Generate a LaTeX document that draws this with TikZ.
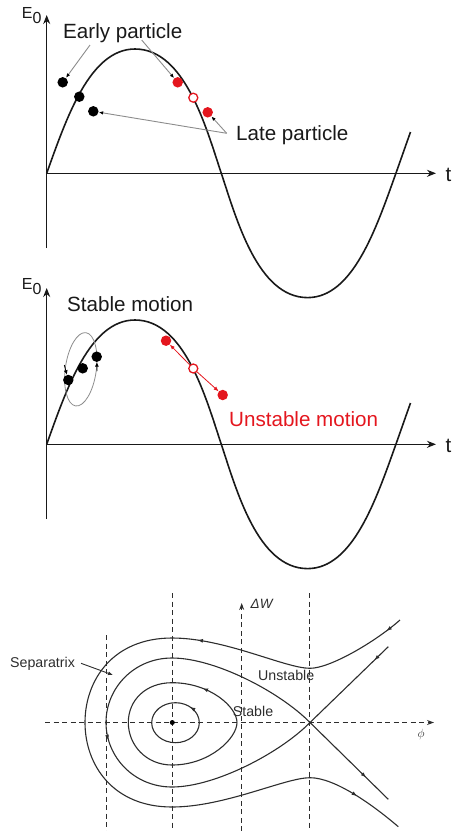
\documentclass[tikz,border=0pt]{standalone}
\usepackage{fontspec}
\setmainfont{Liberation Sans}
\usetikzlibrary{arrows.meta,decorations.markings}
\definecolor{pred}{RGB}{228,22,30}
\definecolor{lgray}{RGB}{140,140,140}
\definecolor{dline}{RGB}{45,45,45}
\definecolor{txt}{RGB}{25,25,25}
\begin{document}
\begin{tikzpicture}[x=1pt,y=-1pt,
  big/.style={font=\fontsize{20.6}{24}\selectfont, inner sep=0pt, text=txt},
  small/.style={font=\fontsize{14.2}{16}\selectfont, inner sep=0pt, text=dline},
  elabel/.style={font=\fontsize{16}{18}\selectfont, inner sep=0pt, anchor=base west, text=txt},
  axisline/.style={line width=1.5pt, draw=txt, -{Stealth[length=9pt,width=7pt]}},
  wave/.style={line width=1.6pt, draw=txt},
  bdot/.style={circle, fill=black, inner sep=0pt, minimum size=10.5pt},
  rdot/.style={circle, fill=pred, inner sep=0pt, minimum size=10.5pt},
  hdot/.style={circle, draw=pred, fill=white, line width=1.3pt, inner sep=0pt, minimum size=9pt},
  pointer/.style={draw=lgray, line width=0.9pt, -{Latex[length=4.5pt,width=3.5pt,color=black]}},
  tipline/.style={draw=black, line width=0.8pt, -{Latex[length=4.5pt,width=4pt]}},
  redline/.style={draw=pred, line width=0.8pt, -{Latex[length=5pt,width=4pt]}},
  dashline/.style={draw=dline, line width=0.9pt, dash pattern=on 5pt off 3.5pt},
  traj/.style={draw=dline, line width=1.1pt},
  flow/.style={postaction={decorate}, decoration={markings, mark=at position #1 with {\arrow{Latex[length=5.5pt,width=4pt]}}}},
]
\useasboundingbox (0,0) rectangle (451,831);

% ================= Panel 1 =================
\coordinate (o1) at (46.7,173.3);
\coordinate (y1b) at (46.7,248);
\coordinate (y1t) at (46.7,15);
\coordinate (x1e) at (436,173.3);
\draw[axisline] (y1b) -- (y1t);
\draw[axisline] (o1) -- (x1e);
\draw[wave] (o1) .. controls (66.7,117.3) and (90,49) .. (135,49)
  .. controls (185,49) and (206.3,128.3) .. (221.3,173.3)
  .. controls (236.3,218.3) and (257.6,297.6) .. (307.6,297.6)
  .. controls (352.6,297.6) and (375.9,229.3) .. (395.9,173.3)
  .. controls (400.9,159.3) and (405.5,146) .. (410.5,132);
\node[elabel] (E1) at (21.7,18.3) {E\raisebox{-5pt}{0}};
\node[big, anchor=base west] (t1) at (445.5,181) {t};

\node[bdot] (b1) at (62.7,82.3) {};
\node[bdot] (b2) at (79.3,96.7) {};
\node[bdot] (b3) at (93.3,111.3) {};
\node[rdot] (r1) at (177.7,82.3) {};
\node[hdot] (r0) at (193.3,97.7) {};
\node[rdot] (r2) at (207.7,112.3) {};

\node[big, anchor=base west] (early) at (63,38.5) {Early particle};
\node[big, anchor=base west] (late) at (236,140) {Late particle};
\coordinate (e1) at (90,45);
\coordinate (e2) at (141.7,40);
\coordinate (lc) at (226.7,133.3);
\draw[pointer] (e1) -- (b1);
\draw[pointer] (e2) -- (r1);
\draw[pointer] (lc) -- (b3);
\draw[pointer] (lc) -- (r2);

% ================= Panel 2 =================
\begin{scope}[shift={(0,271)}]
\coordinate (o2) at (46.7,173.3);
\coordinate (y2b) at (46.7,248);
\coordinate (y2t) at (46.7,17);
\coordinate (x2e) at (436,173.3);
\draw[axisline] (y2b) -- (y2t);
\draw[axisline] (o2) -- (x2e);
\draw[wave] (o2) .. controls (66.7,117.3) and (90,49) .. (135,49)
  .. controls (185,49) and (206.3,128.3) .. (221.3,173.3)
  .. controls (236.3,218.3) and (257.6,297.6) .. (307.6,297.6)
  .. controls (352.6,297.6) and (375.9,229.3) .. (395.9,173.3)
  .. controls (400.9,159.3) and (405.5,146) .. (410.5,132);
\node[elabel] (E2) at (21.7,18.3) {E\raisebox{-5pt}{0}};
\node[big, anchor=base west] (t2) at (445.5,181) {t};
\end{scope}

\draw[lgray, line width=0.8pt, rotate around={-8:(80.8,369.3)}] (80.8,369.3) ellipse [x radius=15.5, y radius=37];
\node[bdot] (s1) at (68.3,380) {};
\node[bdot] (s2) at (82.7,368.3) {};
\node[bdot] (s3) at (96.7,356.7) {};
\coordinate (a1) at (64.3,365);
\coordinate (a3) at (97,371);
\draw[tipline] (a1) -- (s1);
\draw[tipline] (a3) -- (s3);

\node[rdot] (u1) at (166,340.7) {};
\node[hdot] (u0) at (193.3,368.5) {};
\node[rdot] (u2) at (222.7,395) {};
\draw[redline] (u0) -- (u1);
\draw[redline] (u0) -- (u2);

\node[big, anchor=base west] (stab) at (67,311.5) {Stable motion};
\node[big, anchor=base west, text=pred] (unstab) at (229,426) {Unstable motion};

% ================= Panel 3 =================
\coordinate (h0) at (45,722.5);
\coordinate (h1) at (434,722.5);
\draw[dashline, -{Stealth[length=7pt,width=5pt]}] (h0) -- (h1);
\coordinate (v1a) at (106,635);   \coordinate (v1b) at (106,831);
\coordinate (v2a) at (172.3,593); \coordinate (v2b) at (172.3,831);
\coordinate (v3a) at (241.7,831); \coordinate (v3b) at (241.7,603);
\coordinate (v4a) at (309.5,593); \coordinate (v4b) at (309.5,831);
\draw[dashline] (v1a) -- (v1b);
\draw[dashline] (v2a) -- (v2b);
\draw[dashline, -{Stealth[length=7pt,width=5pt]}] (v3a) -- (v3b);
\draw[dashline] (v4a) -- (v4b);

\node[font=\fontsize{13.5}{15}\selectfont\itshape, inner sep=0pt, anchor=base west, text=dline] (dw) at (250.5,608.5) {ΔW};
\node[font=\fontsize{13}{15}\selectfont, inner sep=0pt, text=dline] (phi) at (421,734) {$\phi$};

\node[circle, fill=black, inner sep=0pt, minimum size=5pt] (c0) at (172.3,722.5) {};

% inner ellipse
\draw[traj, flow=0.14] (199.3,722.7) .. controls (199.3,711.65) and (188.64,702.7) .. (175.5,702.7)
  .. controls (162.36,702.7) and (151.7,711.65) .. (151.7,722.7)
  .. controls (151.7,733.75) and (162.36,742.7) .. (175.5,742.7)
  .. controls (188.64,742.7) and (199.3,733.75) .. (199.3,722.7) -- cycle;

% stable curve
\draw[traj, flow=0.62] (237,722.5) .. controls (237,707) and (210,682.7) .. (172,682.7);
\draw[traj] (172,682.7) .. controls (146,682.7) and (128.3,700) .. (128.3,722.5)
  .. controls (128.3,745) and (146,765) .. (172,765)
  .. controls (210,765) and (237,738) .. (237,722.5);

% separatrix
\coordinate (X) at (310,722.5);
\coordinate (sur) at (388.3,646.7);
\coordinate (slr) at (388.3,799.3);
\draw[traj, flow=0.18] (sur) -- (X);
\draw[traj, flow=0.72] (X) -- (slr);
\draw[traj] (X) .. controls (280,692) and (215,658) .. (172,658)
  .. controls (134,658) and (106,688) .. (106,722.5);
\draw[traj, flow=0.07] (106,722.5) .. controls (106,757) and (134,787) .. (172,787)
  .. controls (215,787) and (280,753) .. (X);

% outer unstable curve
\draw[traj, flow=0.17] (400,620) .. controls (375,642) and (330,668.3) .. (310,668.3);
\draw[traj, flow=0.82] (310,668.3) .. controls (285,668.3) and (225,638) .. (172,638);
\draw[traj] (172,638) .. controls (113,638) and (85,680) .. (85,722.5)
  .. controls (85,765) and (113,807) .. (172,807)
  .. controls (225,807) and (285,777.7) .. (310,777.7);
\draw[traj, flow=0.5] (310,777.7) .. controls (335,777.7) and (373,805) .. (398.3,826.7);

\node[small, anchor=base west] (sep) at (10,667) {Separatrix};
\coordinate (septip) at (113,675);
\draw[draw=dline, line width=0.9pt, -{Latex[length=5pt,width=4pt]}] ([xshift=6pt]sep.east) -- (septip);
\node[small, anchor=base west] (unst) at (258,680) {Unstable};
\node[small, anchor=base west] (stbl) at (232.7,716) {Stable};
\end{tikzpicture}
\end{document}
